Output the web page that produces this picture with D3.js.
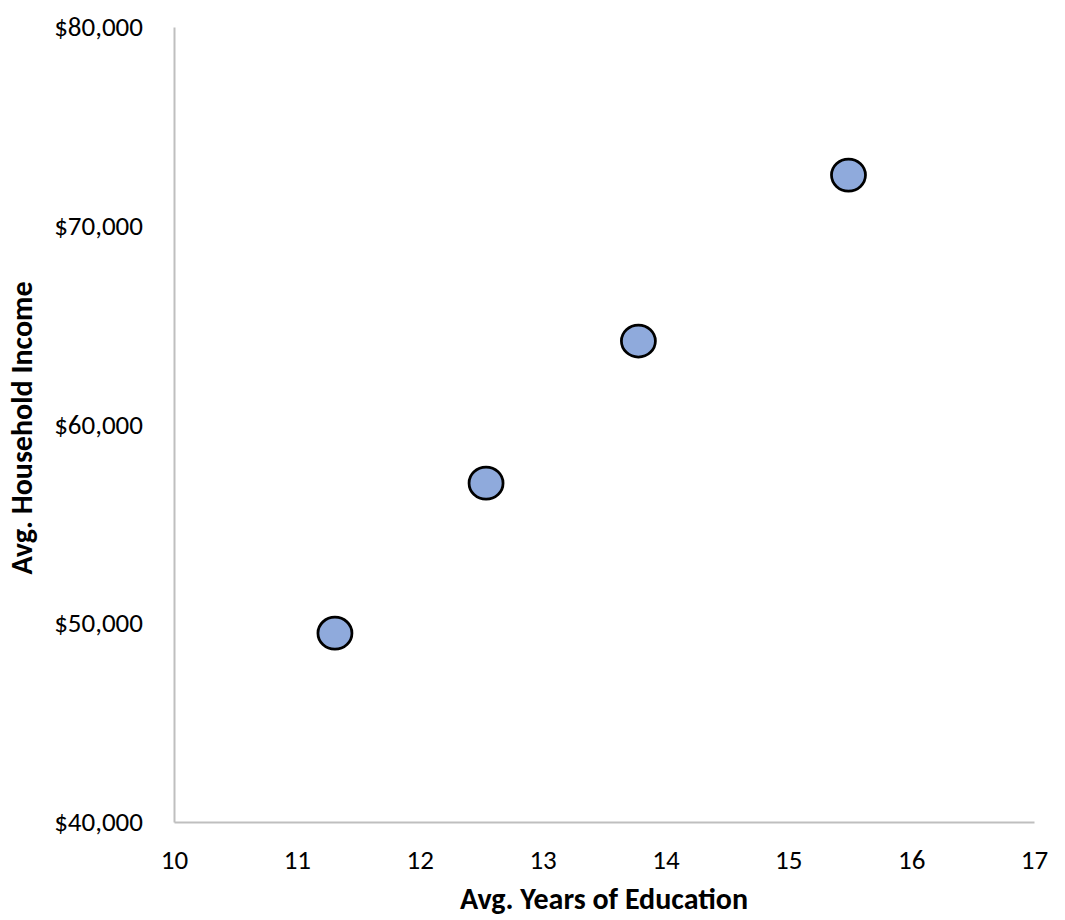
<!DOCTYPE html>
<html><head><meta charset="utf-8">
<script src="https://cdn.jsdelivr.net/npm/d3@7"></script>
<style>body{margin:0;background:#fff;} svg{display:block;}</style>
</head><body>
<svg id="c" width="1065" height="920"></svg>
<script>
const education = [11.31, 12.54, 13.78, 15.49];
const income = [49500, 57050, 64200, 72550];
const xTicks = [10, 11, 12, 13, 14, 15, 16, 17];
const yTicks = [40000, 50000, 60000, 70000, 80000];

const FONT = 'Carlito, Calibri, Lato, "Open Sans", sans-serif';
const svg = d3.select("#c").attr("font-family", FONT);
const m = {l:174, r:1034, t:27, b:822};
const x = d3.scaleLinear().domain([10,17]).range([m.l, m.r]);
const y = d3.scaleLinear().domain([40000,80000]).range([m.b, m.t]);

const fmt = d => "$" + d3.format(",")(d);

const gx = svg.append("g").attr("transform", `translate(0,${m.b})`)
  .call(d3.axisBottom(x).tickValues(xTicks).tickSize(0).tickPadding(28).tickFormat(d3.format("d")));
const gy = svg.append("g").attr("transform", `translate(${m.l},0)`)
  .call(d3.axisLeft(y).tickValues(yTicks).tickSize(0).tickPadding(31).tickFormat(fmt));
[gx, gy].forEach(g => {
  g.attr("font-family", FONT).attr("font-size", 27);
  g.select(".domain").attr("stroke", "#bfbfbf").attr("stroke-width", 2);
  g.selectAll("text").attr("fill", "#000");
});

svg.append("g").selectAll("ellipse").data(education).join("ellipse")
  .attr("cx", (d,i) => x(d)).attr("cy", (d,i) => y(income[i]))
  .attr("rx", 17).attr("ry", 16)
  .attr("fill", "#8faadc").attr("stroke", "#000").attr("stroke-width", 2.75);

svg.append("text").attr("x", 604).attr("y", 909).attr("text-anchor", "middle")
  .attr("font-size", 30).attr("font-weight", "bold").text("Avg. Years of Education");
svg.append("text").attr("transform", "translate(32,428) rotate(-90)").attr("text-anchor", "middle")
  .attr("font-size", 30).attr("font-weight", "bold").text("Avg. Household Income");
</script>
</body></html>
